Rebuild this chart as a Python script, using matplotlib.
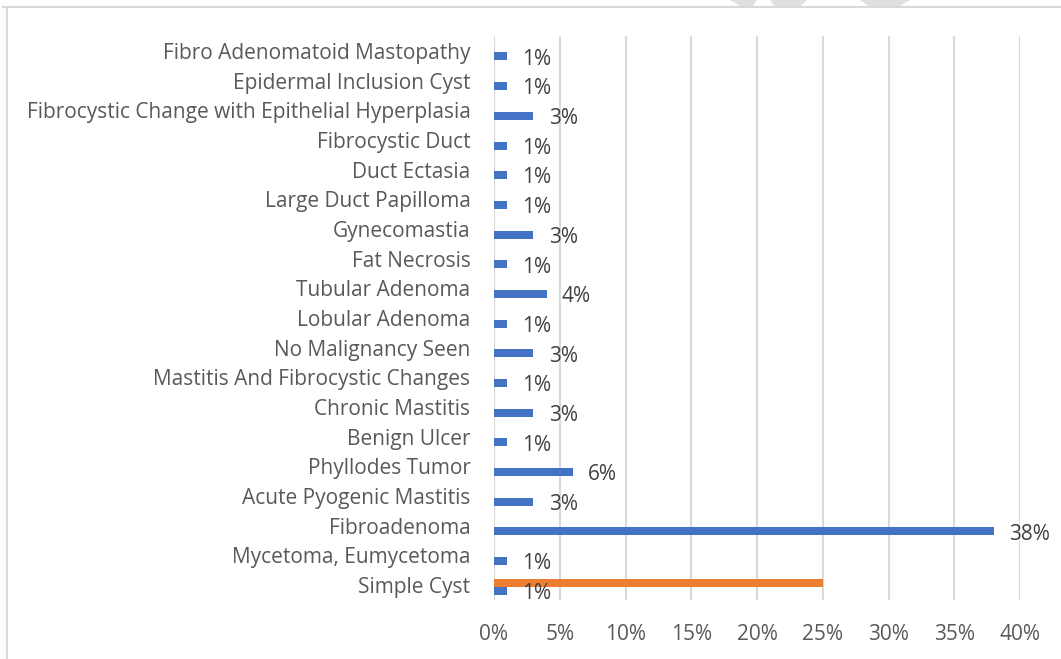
import matplotlib.pyplot as plt
from matplotlib.patches import Polygon
import numpy as np

# categories from bottom to top
categories = ["Simple Cyst", "Mycetoma, Eumycetoma", "Fibroadenoma",
              "Acute Pyogenic Mastitis", "Phyllodes Tumor", "Benign Ulcer",
              "Chronic Mastitis", "Mastitis And Fibrocystic Changes",
              "No Malignancy Seen", "Lobular Adenoma", "Tubular Adenoma",
              "Fat Necrosis", "Gynecomastia", "Large Duct Papilloma",
              "Duct Ectasia", "Fibrocystic Duct",
              "Fibrocystic Change with Epithelial Hyperplasia",
              "Epidermal Inclusion Cyst", "Fibro Adenomatoid Mastopathy"]
blue_values = [1, 1, 38, 3, 6, 1, 3, 1, 3, 1, 4, 1, 3, 1, 1, 1, 3, 1, 1]
orange_values = [25] + [0] * 18
x_ticks = [0, 5, 10, 15, 20, 25, 30, 35, 40]

plt.rcParams['font.family'] = ['Open Sans', 'DejaVu Sans']
txt_color = '#595959'

fig = plt.figure(figsize=(10.61, 6.59), dpi=100)
ax = fig.add_axes([494/1061, 1 - 600/659, 526/1061, 564/659])

y = np.arange(len(categories))
h = 0.27
ax.barh(y - 0.19, blue_values, height=h, color='#4472C4', zorder=3)
ax.barh(y + 0.07, orange_values, height=h, color='#ED7D31', zorder=3)

# data labels for blue series
for yi, v in zip(y, blue_values):
    ax.annotate(f"{v}%", (v, yi - 0.19), xytext=(11, -2), textcoords='offset points',
                ha='left', va='center', fontsize=15, color='#404040')

ax.set_xlim(0, 40)
ax.set_ylim(-0.5, len(categories) - 0.5)
ax.set_xticks(x_ticks)
ax.set_xticklabels([f"{t}%" for t in x_ticks])
ax.set_yticks(y)
ax.set_yticklabels(categories)
ax.tick_params(axis='both', length=0, labelsize=15, colors=txt_color)
ax.tick_params(axis='y', pad=17)
ax.tick_params(axis='x', pad=17)
ax.grid(axis='x', color='#d9d9d9', linewidth=1.5, zorder=0)
for s in ax.spines.values():
    s.set_visible(False)

# outer frame lines (top and left)
W, H = 1061, 659
fig.add_artist(plt.Line2D([3/W, 1], [1 - 7/H, 1 - 7/H], color='#d9d9d9', lw=1.5))
fig.add_artist(plt.Line2D([7/W, 7/W], [0, 1 - 7/H], color='#d9d9d9', lw=1.5))

# faint watermark pieces at top
pieces = [[(730, 0), (757, 0), (752, 7), (742, 7)],
          [(770, 0), (807, 0), (800, 7), (775, 7)],
          [(860, 0), (910, 0), (898, 7), (870, 7)]]
for pts in pieces:
    fig.add_artist(Polygon([(px/W, 1 - py/H) for px, py in pts], closed=True,
                           transform=fig.transFigure, facecolor='#e0e0e0',
                           edgecolor='none'))

fig.savefig('out.png', dpi=100)
